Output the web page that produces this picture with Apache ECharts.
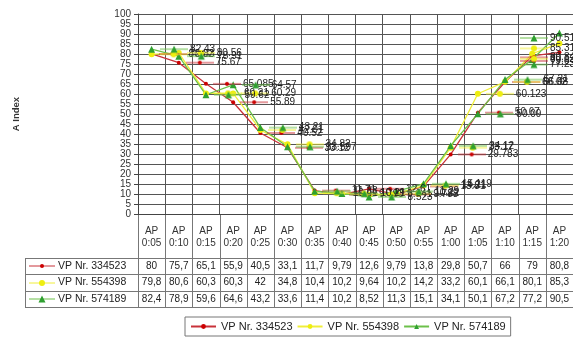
<!DOCTYPE html>
<html>
<head>
<meta charset="utf-8">
<script src="https://cdn.jsdelivr.net/npm/echarts@6/dist/echarts.min.js"></script>
<style>
  html, body { margin: 0; padding: 0; background: #fff; }
  #chart { width: 573px; height: 338px; }
</style>
</head>
<body>
<div id="chart"></div>
<script>
// Measurement slots (category axis)
const categories = ['AP 0:05', 'AP 0:10', 'AP 0:15', 'AP 0:20', 'AP 0:25', 'AP 0:30', 'AP 0:35', 'AP 0:40',
                    'AP 0:45', 'AP 0:50', 'AP 0:55', 'AP 1:00', 'AP 1:05', 'AP 1:10', 'AP 1:15', 'AP 1:20'];

// Subject names
const seriesNames = ['VP Nr. 334523', 'VP Nr. 554398', 'VP Nr. 574189'];

// A index per subject
const vp334523 = [80.02, 75.67, 65.085, 55.89, 40.52, 33.12, 11.71, 9.793, 12.61, 9.788, 13.81, 29.783, 50.67, 66.02, 79.04, 80.84];
const vp554398 = [79.83, 80.56, 60.31, 60.29, 42.01, 34.82, 10.41, 10.19, 9.641, 10.22, 14.21, 33.17, 60.123, 66.08, 80.12, 85.31];
const vp574189 = [82.43, 78.91, 59.62, 64.57, 43.21, 33.597, 11.38, 10.21, 8.523, 11.29, 15.119, 34.12, 50.09, 67.21, 77.23, 90.51];

// Value axis ticks
const yMin = 0, yMax = 100, yStep = 5;

const W = 573, H = 338;
const FONT = "'Liberation Sans', Arial, sans-serif";

const styles = [
  { line: '#c8323a', mark: '#cc0000', symbol: 'circle', size: 4 },
  { line: '#f0ee3a', mark: '#eeee10', symbol: 'circle', size: 6 },
  { line: '#6cc04a', mark: '#2fa030', symbol: 'triangle', size: 7 }
];
const seriesData = [vp334523, vp554398, vp574189];

// small "line + marker" key, as used in data labels and table row headers
function makeKey(st, w, h) {
  const c = document.createElement('canvas');
  c.width = w; c.height = h;
  const g = c.getContext('2d');
  const cy = h / 2, cx = w / 2;
  g.strokeStyle = st.line; g.lineWidth = 1;
  g.beginPath(); g.moveTo(0, cy); g.lineTo(w, cy); g.stroke();
  g.fillStyle = st.mark;
  const r = st.size / 2;
  g.beginPath();
  if (st.symbol === 'triangle') {
    g.moveTo(cx, cy - r); g.lineTo(cx + r, cy + r); g.lineTo(cx - r, cy + r); g.closePath();
  } else {
    g.arc(cx, cy, r, 0, Math.PI * 2);
  }
  g.fill();
  return c;
}

const keys = styles.map(st => makeKey(st, 28, 10));

// three significant digits, decimal comma
function fmtTable(v) {
  return String(Number((v + 1e-9).toPrecision(3))).replace('.', ',');
}

const chart = echarts.init(document.getElementById('chart'), null, { renderer: 'canvas' });

const series = seriesNames.map((name, i) => ({
  name: name,
  type: 'line',
  data: seriesData[i],
  symbol: styles[i].symbol,
  symbolSize: styles[i].size,
  showAllSymbol: true,
  lineStyle: { color: styles[i].line, width: 1.3 },
  itemStyle: { color: styles[i].mark },
  emphasis: { disabled: true },
  animation: false,
  label: {
    show: true,
    position: 'right',
    distance: 5,
    formatter: p => '{k|}{v|' + p.value + '}',
    rich: {
      k: { width: 28, height: 10, backgroundColor: { image: keys[i] } },
      v: { fontSize: 10, color: '#222', fontFamily: FONT, padding: [0, 0, 0, 2] }
    }
  },
  labelLayout: function (p) {
    const r = p.labelRect;
    if (r.x + r.width > W + 2) return { x: W + 2 - r.width };
    return {};
  }
}));

const option = {
  animation: false,
  backgroundColor: '#fff',
  textStyle: { fontFamily: FONT },
  grid: { left: 138, right: 0, top: 14, bottom: H - 214 },
  xAxis: {
    type: 'category',
    data: categories,
    boundaryGap: true,
    axisLine: { show: true, lineStyle: { color: '#444', width: 1 } },
    axisTick: { show: false },
    splitLine: { show: true, interval: 0, lineStyle: { color: '#555', width: 1 } },
    axisLabel: {
      interval: 0,
      margin: 11,
      fontSize: 10,
      lineHeight: 12,
      color: '#333',
      fontFamily: FONT,
      formatter: v => v.replace(' ', '\n')
    }
  },
  yAxis: {
    type: 'value',
    min: yMin, max: yMax, interval: yStep,
    name: 'A Index',
    nameLocation: 'middle',
    nameRotate: 90,
    nameGap: 117,
    nameTextStyle: { fontSize: 9.5, fontWeight: 'bold', color: '#333', fontFamily: FONT },
    axisLine: { show: true, lineStyle: { color: '#444', width: 1 } },
    axisTick: { show: true, length: 4, lineStyle: { color: '#444' } },
    axisLabel: { fontSize: 10, color: '#333', margin: 7, fontFamily: FONT },
    splitLine: { show: true, lineStyle: { color: '#555', width: 1 } }
  },
  legend: {
    data: seriesNames,
    left: 185,
    top: 317,
    padding: [4, 5],
    itemGap: 4,
    itemWidth: 25,
    itemHeight: 6,
    borderColor: '#777',
    borderWidth: 1,
    selectedMode: false,
    textStyle: { fontSize: 11, color: '#222', fontFamily: FONT }
  },
  series: series
};

chart.setOption(option);

// Data table below the plot, aligned with the category columns
(function drawTable() {
  const xs = categories.map((_, i) => chart.convertToPixel({ xAxisIndex: 0 }, i));
  const colW = xs[1] - xs[0];
  const left0 = xs[0] - colW / 2;
  const right0 = xs[xs.length - 1] + colW / 2;
  const axisY = chart.convertToPixel({ yAxisIndex: 0 }, yMin);
  const headTop = axisY;
  const rowTop = headTop + 44;
  const rowH = 16.4;
  const tableBottom = rowTop + rowH * 3;
  const hdrLeft = 25;
  const lc = '#777';
  const els = [];

  // column borders
  for (let i = 0; i <= categories.length; i++) {
    const x = Math.round(left0 + i * colW) + 0.5;
    els.push({ type: 'line', shape: { x1: x, y1: headTop, x2: x, y2: tableBottom }, style: { stroke: lc, lineWidth: 1 }, silent: true });
  }
  // row borders
  for (let r = 0; r <= 3; r++) {
    const y = Math.round(rowTop + r * rowH) + 0.5;
    els.push({ type: 'line', shape: { x1: hdrLeft, y1: y, x2: right0, y2: y }, style: { stroke: lc, lineWidth: 1 }, silent: true });
  }
  els.push({ type: 'line', shape: { x1: hdrLeft + 0.5, y1: Math.round(rowTop) + 0.5, x2: hdrLeft + 0.5, y2: Math.round(tableBottom) + 0.5 }, style: { stroke: lc, lineWidth: 1 }, silent: true });

  // row headers and values
  seriesNames.forEach((name, r) => {
    const cy = rowTop + rowH * r + rowH / 2;
    els.push({ type: 'image', style: { image: makeKey(styles[r], 26, 8), x: hdrLeft + 4, y: Math.round(cy - 4), width: 26, height: 8 }, silent: true });
    els.push({ type: 'text', style: { text: name, x: hdrLeft + 33, y: cy, verticalAlign: 'middle', align: 'left', fontSize: 10.5, fill: '#222', fontFamily: FONT }, silent: true });
    seriesData[r].forEach((v, i) => {
      els.push({ type: 'text', style: { text: fmtTable(v), x: xs[i], y: cy, verticalAlign: 'middle', align: 'center', fontSize: 10, fill: '#222', fontFamily: FONT }, silent: true });
    });
  });

  chart.setOption({ graphic: { elements: els } });
})();
</script>
</body>
</html>
